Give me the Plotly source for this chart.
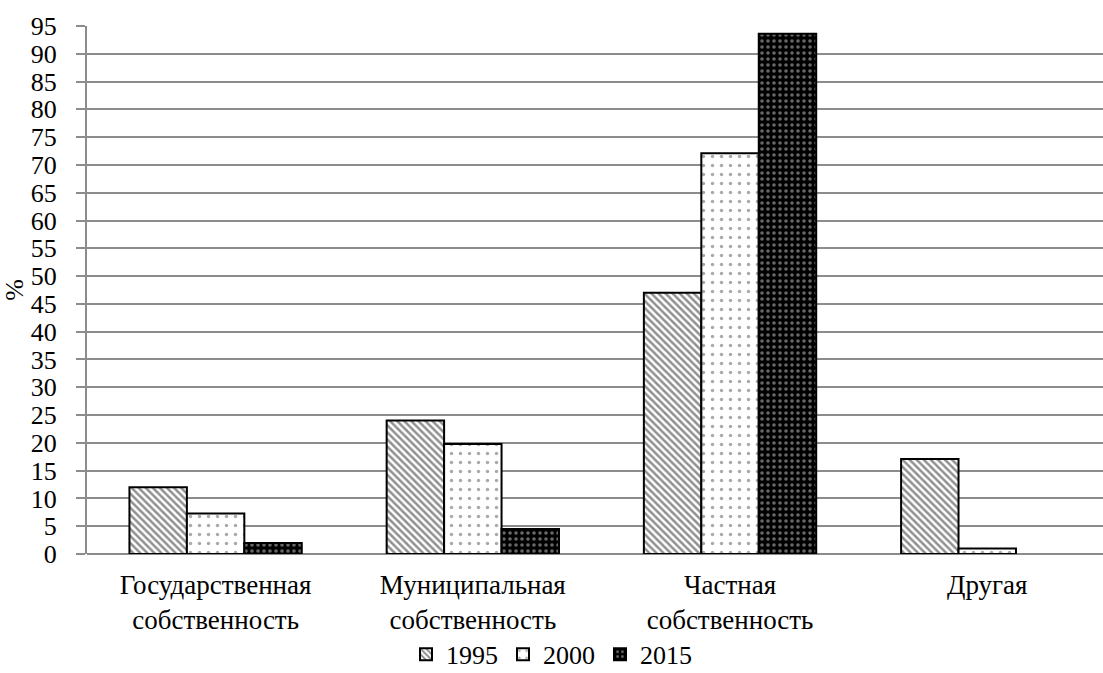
import plotly.graph_objects as go

categories = ["Государственная<br>собственность", "Муниципальная<br>собственность",
              "Частная<br>собственность", "Другая"]
years = ["1995", "2000", "2015"]
values_1995 = [12, 24, 47, 17.1]
values_2000 = [7.3, 19.8, 72.1, 1]
values_2015 = [2, 4.5, 93.6, None]
y_ticks = list(range(0, 100, 5))

series = [values_1995, values_2000, values_2015]
patterns = [
    dict(shape="\\", fgcolor="#222222", bgcolor="white", size=5, solidity=0.5),
    dict(shape=".", fgcolor="#555555", bgcolor="white", size=9, solidity=0.12),
    dict(shape=".", fgcolor="#d0d0d0", bgcolor="black", size=6, solidity=0.28),
]

fig = go.Figure()
for name, vals, pat in zip(years, series, patterns):
    fig.add_trace(go.Bar(
        x=categories, y=vals, name=name,
        marker=dict(color="white", pattern=pat,
                    line=dict(color="black", width=2)),
    ))

font_family = "'Liberation Serif', 'Times New Roman', serif"
fig.update_layout(
    width=1103, height=673,
    margin=dict(l=87, r=0, t=26, b=119, autoexpand=False),
    paper_bgcolor="white", plot_bgcolor="white",
    barmode="group", bargap=0.33, bargroupgap=0,
    font=dict(family=font_family, size=26, color="black"),
    showlegend=True,
    legend=dict(orientation="h", xref="container", yref="paper",
                x=0.5, xanchor="center", y=-0.19, yanchor="middle",
                font=dict(family=font_family, size=26),
                itemwidth=30, traceorder="normal"),
    xaxis=dict(range=[-0.5, 3.45], showgrid=False, ticks="",
               showline=False, automargin=False,
               tickfont=dict(family=font_family, size=27),
               ticklabelstandoff=12),
    yaxis=dict(range=[0, 95], tickvals=y_ticks, showgrid=True,
               gridcolor="#8c8c8c", gridwidth=2, showline=True,
               linecolor="#8c8c8c", linewidth=2, ticks="outside",
               ticklen=9, tickcolor="#8c8c8c", tickwidth=2,
               zeroline=True, zerolinecolor="#8c8c8c", zerolinewidth=2,
               automargin=False, ticklabelstandoff=14,
               title=dict(text="%", standoff=0,
                          font=dict(family=font_family, size=26)),
               tickfont=dict(family=font_family, size=26)),
)

fig.write_html("out.html")
